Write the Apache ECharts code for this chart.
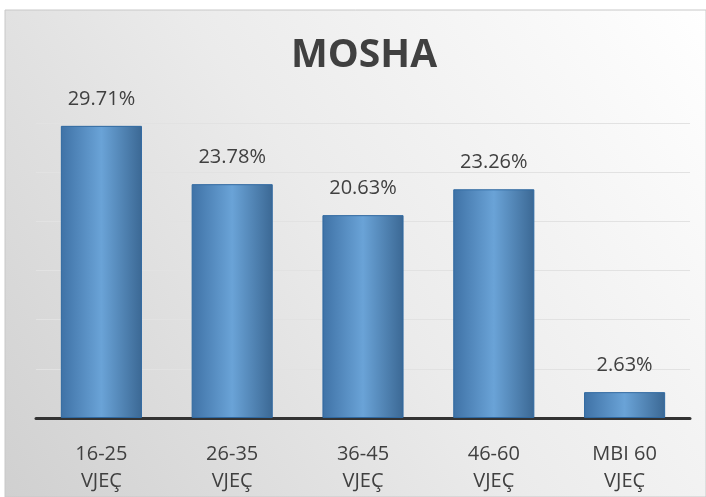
<!DOCTYPE html>
<html>
<head>
<meta charset="utf-8">
<script src="https://cdn.jsdelivr.net/npm/echarts@6/dist/echarts.min.js"></script>
<style>
  html, body { margin: 0; padding: 0; background: #fff; }
  #chart { width: 706px; height: 497px; }
</style>
</head>
<body>
<div id="chart"></div>
<script>
// age groups and share of respondents (%)
const categories = ['16-25\nVJEÇ', '26-35\nVJEÇ', '36-45\nVJEÇ', '46-60\nVJEÇ', 'MBI 60\nVJEÇ'];
const shares = [29.71, 23.78, 20.63, 23.26, 2.63];

const chart = echarts.init(document.getElementById('chart'));

const barColor = new echarts.graphic.LinearGradient(0, 0, 1, 0, [
    { offset: 0, color: '#3f72a6' },
    { offset: 0.5, color: '#6aa3d7' },
    { offset: 1, color: '#3b6894' }
]);

const option = {
    backgroundColor: '#ffffff',
    animation: false,
    graphic: [{
        type: 'rect',
        z: -10,
        shape: { x: 5, y: 10, width: 701, height: 487 },
        style: {
            fill: new echarts.graphic.LinearGradient(1, 0, 0, 1, [
                { offset: 0, color: '#ffffff' },
                { offset: 0.5, color: '#ebebeb' },
                { offset: 1, color: '#d0d0d0' }
            ]),
            stroke: '#c8c8c8',
            lineWidth: 1
        }
    }],
    title: {
        text: 'MOSHA',
        left: 286,
        top: 31,
        textStyle: {
            fontFamily: 'Open Sans',
            fontWeight: 'bold',
            fontSize: 39,
            color: '#404040'
        }
    },
    grid: {
        left: 36,
        right: 16,
        top: 123,
        bottom: 79
    },
    xAxis: {
        type: 'category',
        data: categories,
        axisLine: { lineStyle: { color: '#333333', width: 3 } },
        axisTick: { show: false },
        axisLabel: {
            margin: 23,
            fontFamily: 'Open Sans',
            fontSize: 20,
            lineHeight: 27,
            color: '#404040'
        }
    },
    yAxis: {
        type: 'value',
        min: 0,
        max: 30,
        interval: 5,
        axisLabel: { show: false },
        axisLine: { show: false },
        axisTick: { show: false },
        splitLine: { lineStyle: { color: '#e2e2e2', width: 1 } }
    },
    series: [{
        type: 'bar',
        data: shares,
        barWidth: '62%',
        itemStyle: {
            color: barColor,
            borderColor: '#2f68a0',
            borderWidth: 1
        },
        label: {
            show: true,
            position: 'top',
            distance: 17,
            fontFamily: 'Open Sans',
            fontSize: 20,
            color: '#404040',
            formatter: p => p.value.toFixed(2) + '%'
        }
    }]
};

chart.setOption(option);
</script>
</body>
</html>
